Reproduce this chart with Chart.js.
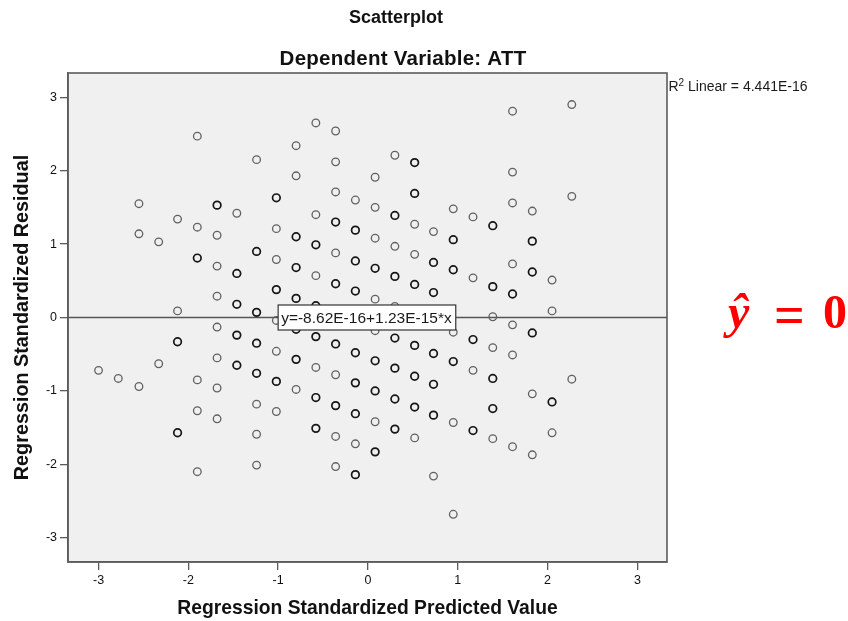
<!DOCTYPE html>
<html>
<head>
<meta charset="utf-8">
<script src="https://cdn.jsdelivr.net/npm/chart.js@4.4.1/dist/chart.umd.min.js"></script>
<style>
  html, body { margin: 0; padding: 0; background: #ffffff; }
  #wrap { width: 848px; height: 621px; }
</style>
</head>
<body>
<div id="wrap"><canvas id="chart" width="848" height="621"></canvas></div>
<script>
// Standardized predicted value of each case (grouped by column)
const predicted = [
  -3.00,
  -2.78,
  -2.55, -2.55, -2.55,
  -2.33, -2.33,
  -2.12, -2.12, -2.12, -2.12,
  -1.90, -1.90, -1.90, -1.90, -1.90, -1.90,
  -1.68, -1.68, -1.68, -1.68, -1.68, -1.68, -1.68, -1.68,
  -1.46, -1.46, -1.46, -1.46, -1.46,
  -1.24, -1.24, -1.24, -1.24, -1.24, -1.24, -1.24, -1.24,
  -1.02, -1.02, -1.02, -1.02, -1.02, -1.02, -1.02, -1.02,
  -0.80, -0.80, -0.80, -0.80, -0.80, -0.80, -0.80, -0.80,
  -0.58, -0.58, -0.58, -0.58, -0.58, -0.58, -0.58, -0.58, -0.58,
  -0.36, -0.36, -0.36, -0.36, -0.36, -0.36, -0.36, -0.36, -0.36, -0.36, -0.36,
  -0.14, -0.14, -0.14, -0.14, -0.14, -0.14, -0.14, -0.14, -0.14,
  0.08, 0.08, 0.08, 0.08, 0.08, 0.08, 0.08, 0.08, 0.08, 0.08,
  0.30, 0.30, 0.30, 0.30, 0.30, 0.30, 0.30, 0.30, 0.30,
  0.52, 0.52, 0.52, 0.52, 0.52, 0.52, 0.52, 0.52, 0.52,
  0.73, 0.73, 0.73, 0.73, 0.73, 0.73, 0.73,
  0.95, 0.95, 0.95, 0.95, 0.95, 0.95, 0.95,
  1.17, 1.17, 1.17, 1.17, 1.17,
  1.39, 1.39, 1.39, 1.39, 1.39, 1.39, 1.39,
  1.61, 1.61, 1.61, 1.61, 1.61, 1.61, 1.61, 1.61,
  1.83, 1.83, 1.83, 1.83, 1.83, 1.83,
  2.05, 2.05, 2.05, 2.05,
  2.27, 2.27, 2.27
];

// Standardized residual of each case, same order as above
const residual = [
  -0.72,
  -0.83,
  1.55, 1.14, -0.94,
  1.03, -0.63,
  1.34, 0.09, -0.33, -1.57,
  2.47, 1.23, 0.81, -0.85, -1.27, -2.10,
  1.53, 1.12, 0.70, 0.29, -0.13, -0.55, -0.96, -1.38,
  1.42, 0.60, 0.18, -0.24, -0.65,
  2.15, 0.90, 0.07, -0.35, -0.76, -1.18, -1.59, -2.01,
  1.63, 1.21, 0.79, 0.38, -0.04, -0.46, -0.87, -1.28,
  2.34, 1.93, 1.10, 0.68, 0.26, -0.16, -0.57, -0.98,
  2.65, 1.40, 0.99, 0.57, 0.16, -0.26, -0.68, -1.09, -1.51,
  2.54, 2.12, 1.71, 1.30, 0.88, 0.46, -0.36, -0.78, -1.20, -1.62, -2.03,
  1.60, 1.19, 0.77, 0.36, -0.48, -0.89, -1.31, -1.72, -2.14,
  1.91, 1.50, 1.08, 0.67, 0.25, -0.18, -0.59, -1.00, -1.42, -1.83,
  2.21, 1.39, 0.97, 0.56, 0.15, -0.28, -0.69, -1.11, -1.52,
  2.11, 1.69, 1.27, 0.86, 0.45, -0.38, -0.80, -1.22, -1.64,
  1.17, 0.75, 0.34, -0.49, -0.91, -1.33, -2.16,
  1.48, 1.06, 0.65, -0.20, -0.60, -1.43, -2.68,
  1.37, 0.54, -0.30, -0.72, -1.54,
  1.25, 0.42, 0.01, -0.41, -0.83, -1.24, -1.65,
  2.81, 1.98, 1.56, 0.73, 0.32, -0.10, -0.51, -1.76,
  1.45, 1.04, 0.62, -0.21, -1.04, -1.87,
  0.51, 0.09, -1.15, -1.57,
  2.90, 1.65, -0.84
];

// Number of cases sharing each spot (overlapping markers print darker)
const cases = [
  1,
  1,
  1, 1, 1,
  1, 1,
  1, 1, 2, 2,
  1, 1, 2, 1, 1, 1,
  2, 1, 1, 1, 1, 1, 1, 1,
  1, 2, 2, 2, 2,
  1, 2, 2, 2, 2, 1, 1, 1,
  2, 1, 1, 2, 1, 1, 2, 1,
  1, 1, 2, 2, 2, 2, 2, 1,
  1, 1, 2, 1, 2, 2, 1, 2, 2,
  1, 1, 1, 2, 1, 2, 2, 1, 2, 1, 1,
  1, 2, 2, 2, 2, 2, 2, 1, 2,
  1, 1, 1, 2, 1, 1, 2, 2, 1, 2,
  1, 2, 1, 2, 1, 2, 2, 2, 2,
  2, 2, 1, 1, 2, 2, 2, 2, 1,
  1, 2, 2, 2, 2, 2, 1,
  1, 2, 2, 1, 2, 1, 1,
  1, 1, 2, 1, 2,
  2, 2, 1, 1, 2, 2, 1,
  1, 1, 1, 1, 2, 1, 1, 1,
  1, 2, 2, 2, 1, 1,
  1, 1, 2, 1,
  1, 1, 1
];

// Fit line coefficients and annotation texts
const fitIntercept = -8.62e-16;
const fitSlope = 1.23e-15;
const fitLabel = 'y=-8.62E-16+1.23E-15*x';
const fitLabelAt = -1.0;
const r2Label = ' Linear = 4.441E-16';

// Axis ranges and tick labels
const xRange = [-3.34, 3.33];
const yRange = [-3.33, 3.33];
const tickValues = [-3, -2, -1, 0, 1, 2, 3];

const FONT = "'Liberation Sans', Arial, Helvetica, sans-serif";
const SERIF = "'Liberation Serif', 'DejaVu Serif', serif";
Chart.defaults.font.family = FONT;

const frameColor = '#5c5c5c';

// Grey plot panel behind the data and its frame
const plotFrame = {
  id: 'plotFrame',
  beforeDraw(chart) {
    const { ctx, chartArea: a } = chart;
    ctx.save();
    ctx.fillStyle = '#f0f0f0';
    ctx.fillRect(a.left, a.top, a.right - a.left, a.bottom - a.top);
    ctx.restore();
  },
  afterDraw(chart) {
    const { ctx, chartArea: a } = chart;
    ctx.save();
    ctx.strokeStyle = frameColor;
    ctx.lineWidth = 1.6;
    ctx.strokeRect(a.left, a.top, a.right - a.left, a.bottom - a.top);
    ctx.restore();
  }
};

// Boxed equation of the fit line
const fitBox = {
  id: 'fitBox',
  afterDatasetsDraw(chart) {
    const { ctx } = chart;
    const xs = chart.scales.x, ys = chart.scales.y;
    const left = xs.getPixelForValue(fitLabelAt);
    const cy = ys.getPixelForValue(fitIntercept + fitSlope * fitLabelAt);
    ctx.save();
    ctx.font = '15.5px ' + FONT;
    const w = ctx.measureText(fitLabel).width + 7;
    const h = 25;
    ctx.fillStyle = '#ffffff';
    ctx.fillRect(left, cy - h / 2, w, h);
    ctx.strokeStyle = '#333333';
    ctx.lineWidth = 1.2;
    ctx.strokeRect(left, cy - h / 2, w, h);
    ctx.fillStyle = '#1a1a1a';
    ctx.textBaseline = 'middle';
    ctx.textAlign = 'left';
    ctx.fillText(fitLabel, left + 3, cy + 1);
    ctx.restore();
  }
};

// Headings, R-squared note and the fitted-value note
const annotations = {
  id: 'annotations',
  afterDraw(chart) {
    const { ctx, chartArea: a } = chart;
    ctx.save();
    ctx.fillStyle = '#111111';
    ctx.textAlign = 'center';
    ctx.textBaseline = 'middle';
    ctx.font = 'bold 18px ' + FONT;
    ctx.fillText('Scatterplot', 396, 18);
    ctx.font = 'bold 20.5px ' + FONT;
    ctx.letterSpacing = '0.25px';
    ctx.fillText('Dependent Variable: ATT', 403, 59);
    ctx.letterSpacing = '0px';

    // R² with a raised, smaller exponent
    ctx.textAlign = 'left';
    ctx.fillStyle = '#1a1a1a';
    ctx.textBaseline = 'alphabetic';
    let x = a.right + 1.5;
    ctx.font = '14px ' + FONT;
    ctx.fillText('R', x, 91);
    x += ctx.measureText('R').width;
    ctx.font = '10px ' + FONT;
    ctx.fillText('2', x, 86);
    x += ctx.measureText('2').width;
    ctx.font = '14px ' + FONT;
    ctx.fillText(r2Label, x, 91);

    // fitted value note
    ctx.fillStyle = '#ff0000';
    ctx.font = 'bold italic 48px ' + SERIF;
    ctx.fillText('\u0177', 728, 328);
    ctx.font = 'bold 54px ' + SERIF;
    ctx.fillText('=', 774, 333);
    ctx.font = 'bold 48px ' + SERIF;
    ctx.fillText('0', 823, 328);
    ctx.restore();
  }
};

const keepTicks = (scale) => {
  scale.ticks = tickValues.map(v => ({ value: v }));
};

new Chart(document.getElementById('chart'), {
  data: {
    datasets: [
      {
        type: 'scatter',
        label: 'Cases',
        order: 0,
        data: predicted.map((x, i) => ({ x: x, y: residual[i] })),
        pointStyle: 'circle',
        pointRadius: 3.8,
        pointBackgroundColor: 'rgba(0,0,0,0)',
        pointBorderColor: (c) => cases[c.dataIndex] > 1 ? '#151515' : '#606060',
        pointBorderWidth: (c) => cases[c.dataIndex] > 1 ? 1.7 : 1.3
      },
      {
        type: 'line',
        label: 'Fit line',
        order: 1,
        data: xRange.map(x => ({ x: x, y: fitIntercept + fitSlope * x })),
        borderColor: '#555555',
        borderWidth: 1.6,
        pointRadius: 0,
        fill: false
      }
    ]
  },
  options: {
    responsive: false,
    animation: false,
    events: [],
    layout: { padding: { top: 73, left: 0, right: 181, bottom: 0 } },
    plugins: {
      legend: { display: false },
      tooltip: { enabled: false },
      title: { display: false }
    },
    scales: {
      x: {
        type: 'linear',
        position: 'bottom',
        min: xRange[0],
        max: xRange[1],
        afterBuildTicks: keepTicks,
        afterFit: (s) => { s.height = 59; },
        ticks: {
          stepSize: 1,
          includeBounds: false,
          padding: 3,
          color: '#111111',
          font: { size: 12.5 }
        },
        grid: {
          drawOnChartArea: false,
          drawTicks: true,
          tickLength: 8,
          color: frameColor,
          lineWidth: 1.3
        },
        border: { display: true, color: frameColor, width: 1.6 },
        title: {
          display: true,
          text: 'Regression Standardized Predicted Value',
          color: '#111111',
          font: { size: 19.3, weight: 'bold' },
          padding: { top: 0, bottom: 1 }
        }
      },
      y: {
        type: 'linear',
        position: 'left',
        min: yRange[0],
        max: yRange[1],
        afterBuildTicks: keepTicks,
        afterFit: (s) => { s.width = 68; },
        ticks: {
          stepSize: 1,
          includeBounds: false,
          padding: 3,
          color: '#111111',
          font: { size: 12.5 }
        },
        grid: {
          drawOnChartArea: false,
          drawTicks: true,
          tickLength: 8,
          color: frameColor,
          lineWidth: 1.3
        },
        border: { display: true, color: frameColor, width: 1.6 },
        title: {
          display: true,
          text: 'Regression Standardized Residual',
          color: '#111111',
          font: { size: 19.8, weight: 'bold' },
          padding: { top: 11, bottom: 0 }
        }
      }
    }
  },
  plugins: [plotFrame, fitBox, annotations]
});
</script>
</body>
</html>
